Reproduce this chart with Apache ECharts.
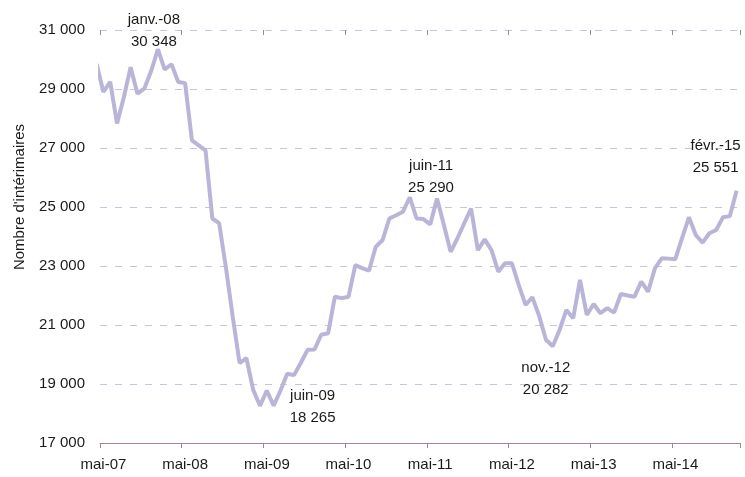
<!DOCTYPE html>
<html lang="fr">
<head>
    <meta charset="UTF-8">
    <title>Intérimaires</title>
    <script src="https://cdn.jsdelivr.net/npm/echarts@6/dist/echarts.min.js"></script>
    <style type="text/css">
        *{
            padding: 0px;
            margin: 0px;
            border: 0px;
        }
        #chart{
            width: 745px;
            height: 477px;
            background: #fff;
        }
    </style>
</head>
<body>
<div id="chart"></div>
<script>

    // mois (mai-07 -> févr.-15)
    var monthNames = ['janv.', 'févr.', 'mars', 'avr.', 'mai', 'juin', 'juil.', 'août', 'sept.', 'oct.', 'nov.', 'déc.'];
    var startMonth = 4, startYear = 2007, nbMonths = 94;

    // nombre d'intérimaires, mensuel
    var values = [
        28900, 29240, 27830, 28720, 29740, 28840, 29010, 29600, 30348, 29660,
        29840, 29240, 29200, 27260, 27090, 26920, 24610, 24450, 22940, 21270,
        19710, 19880, 18800, 18260, 18780, 18265, 18770, 19350, 19300, 19720,
        20160, 20170, 20670, 20720, 21960, 21910, 21960, 23030, 22930, 22840,
        23650, 23880, 24610, 24720, 24840, 25330, 24610, 24590, 24410, 25290,
        24400, 23480, 23940, 24450, 24950, 23540, 23900, 23540, 22810, 23090,
        23090, 22360, 21680, 21940, 21310, 20500, 20282, 20830, 21510, 21230,
        22530, 21340, 21710, 21400, 21570, 21420, 22050, 22000, 21960, 22470,
        22130, 22920, 23260, 23250, 23230, 23950, 24650, 24050, 23790, 24110,
        24220, 24650, 24690, 25551
    ];
    // point d'avril 07, coupé par le bord gauche
    var prevValue = 29850;

    // points annotés : index du mois, décalage du texte
    var notes = [8, 25, 49, 66, 93];
    var noteOffsets = [[-4, -18], [39, 1], [-6, -22], [-7, 33], [-21, -34]];

    var yTicks = {min: 17000, max: 31000, step: 2000};

    var categories = [];
    for (var i = 0; i < nbMonths; i++) {
        var m = (startMonth + i) % 12;
        var y = startYear + Math.floor((startMonth + i) / 12);
        categories.push(monthNames[m] + '-' + String(y).slice(2));
    }

    function fmt(v) {
        return String(v).replace(/\B(?=(\d{3})+(?!\d))/g, ' ');
    }

    // un trait tous les 12 mois
    function everyYear(index) {
        return index % 12 === 0;
    }

    var seriesData = [[-1, prevValue]];
    values.forEach(function (v, i) { seriesData.push([i, v]); });

    var markData = notes.map(function (idx, k) {
        return {
            coord: [idx, values[idx]],
            label: {
                offset: noteOffsets[k],
                formatter: categories[idx] + '\n' + fmt(values[idx])
            }
        };
    });

    var font = 'Liberation Sans';
    var axisColor = '#a3849c';

    var option = {
        animation: false,
        backgroundColor: '#ffffff',
        grid: {left: 100, right: 5, top: 30, bottom: 34},
        xAxis: [
            {
                type: 'category',
                data: categories,
                boundaryGap: true,
                axisLine: {lineStyle: {color: axisColor, width: 1}},
                axisTick: {show: true, length: 5, interval: everyYear, lineStyle: {color: axisColor}},
                axisLabel: {interval: 11, fontSize: 15, fontFamily: font, color: '#1a1a1a', margin: 14},
                splitLine: {show: false}
            },
            {
                type: 'value',
                min: -0.5,
                max: nbMonths - 0.5,
                show: false
            },
            {
                type: 'category',
                data: categories,
                boundaryGap: true,
                axisLine: {show: false},
                axisTick: {show: true, inside: true, length: 5, interval: everyYear, lineStyle: {color: axisColor}},
                axisLabel: {show: false},
                splitLine: {show: false}
            }
        ],
        yAxis: {
            type: 'value',
            min: yTicks.min,
            max: yTicks.max,
            interval: yTicks.step,
            name: "Nombre d'intérimaires",
            nameLocation: 'middle',
            nameRotate: 90,
            nameGap: 73,
            nameTextStyle: {fontSize: 15, fontFamily: font, color: '#1a1a1a', padding: [0, 0, 0, 79]},
            axisLine: {show: false},
            axisTick: {show: false},
            axisLabel: {
                fontSize: 15, fontFamily: font, color: '#1a1a1a', margin: 15,
                formatter: function (v) { return fmt(v); }
            },
            splitLine: {lineStyle: {color: '#c8c3df', type: [7, 8], width: 1}}
        },
        series: [{
            type: 'line',
            xAxisIndex: 1,
            data: seriesData,
            showSymbol: false,
            clip: true,
            lineStyle: {color: '#b9b5d8', width: 4},
            z: 5,
            markPoint: {
                symbol: 'circle',
                symbolSize: 0,
                label: {
                    show: true,
                    position: 'inside',
                    fontSize: 15,
                    fontFamily: font,
                    color: '#1a1a1a',
                    lineHeight: 22,
                    align: 'center',
                    verticalAlign: 'middle'
                },
                data: markData
            }
        }]
    };

    var chart = echarts.init(document.getElementById('chart'));
    chart.setOption(option);

</script>
</body>
</html>
